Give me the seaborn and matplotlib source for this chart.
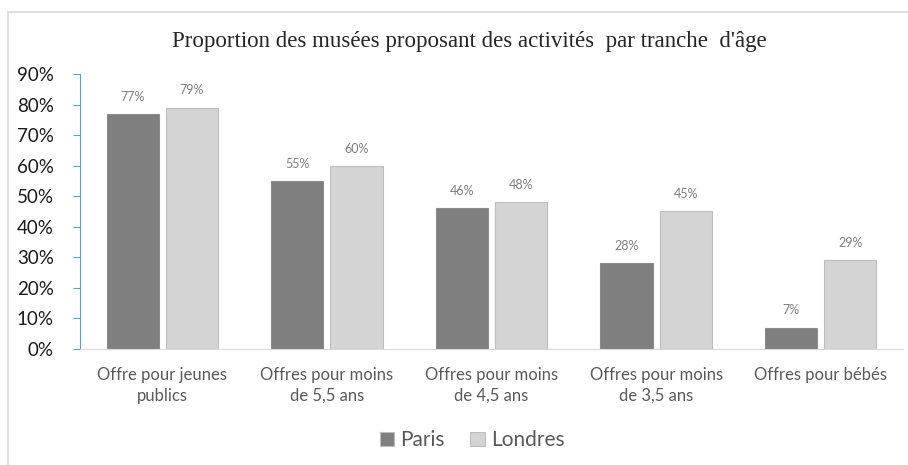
import pandas as pd
import matplotlib.pyplot as plt
import seaborn as sns
from matplotlib.patches import Rectangle
from matplotlib.ticker import FuncFormatter

# Data
categories = ["Offre pour jeunes\npublics", "Offres pour moins\nde 5,5 ans",
              "Offres pour moins\nde 4,5 ans", "Offres pour moins\nde 3,5 ans",
              "Offres pour bébés"]
paris = [77, 55, 46, 28, 7]
londres = [79, 60, 48, 45, 29]
series = ["Paris", "Londres"]

df = pd.DataFrame({
    "categorie": categories * 2,
    "ville": ["Paris"] * len(categories) + ["Londres"] * len(categories),
    "valeur": paris + londres,
})

sns.set_style("white")
plt.rcParams['font.family'] = ['Lato', 'DejaVu Sans']

fig = plt.figure(figsize=(9.08, 4.65), dpi=100)
ax = fig.add_axes([0.0881, 0.2495, 0.9064, 0.5914])

# chart frame
fig.patches.append(Rectangle((8 / 908, -0.01), 1.0, 1 - 12 / 465 + 0.01,
                             transform=fig.transFigure, fill=False,
                             edgecolor="#d9d9d9", linewidth=1.2))

sns.barplot(data=df, x="categorie", y="valeur", hue="ville", ax=ax,
            palette={"Paris": "#7f7f7f", "Londres": "#d4d4d4"},
            width=0.72, gap=0.12, edgecolor="#8c8c8c", linewidth=0.8,
            saturation=1)
for bar in ax.patches[len(categories):]:
    bar.set_edgecolor("#bdbdbd")

for cont in ax.containers:
    ax.bar_label(cont, fmt="%d%%", padding=8, fontsize=9, color="#7f7f7f")

ax.set_ylim(0, 90)
ax.set_yticks(range(0, 91, 10))
ax.yaxis.set_major_formatter(FuncFormatter(lambda v, p: f"{int(v)}%"))
ax.tick_params(axis="y", labelsize=13.5, labelcolor="#1a1a1a", length=5,
               color="#5b9bd5", direction="out", pad=14, left=True)
ax.tick_params(axis="x", labelsize=12, labelcolor="#595959", length=0, pad=13)
for lab in ax.get_xticklabels():
    lab.set_multialignment("center")
    lab.set_linespacing(1.35)

sns.despine(ax=ax, top=True, right=True)
ax.spines["left"].set_color("#5b9bd5")
ax.spines["bottom"].set_color("#d9d9d9")
ax.set_xlabel("")
ax.set_ylabel("")

fig.text(0.517, 0.91, "Proportion des musées proposant des activités  par tranche  d'âge",
         ha="center", va="center", fontsize=16.5, family="Liberation Serif")

ax.get_legend().remove()
handles, labels = ax.get_legend_handles_labels()
fig.legend(handles, labels, loc="center", bbox_to_anchor=(0.52, 0.053), ncol=2,
           frameon=False, fontsize=15, labelcolor="#595959", handlelength=0.7,
           handleheight=0.7, handletextpad=0.3, columnspacing=1.2)

plt.savefig("out.png", dpi=100)
